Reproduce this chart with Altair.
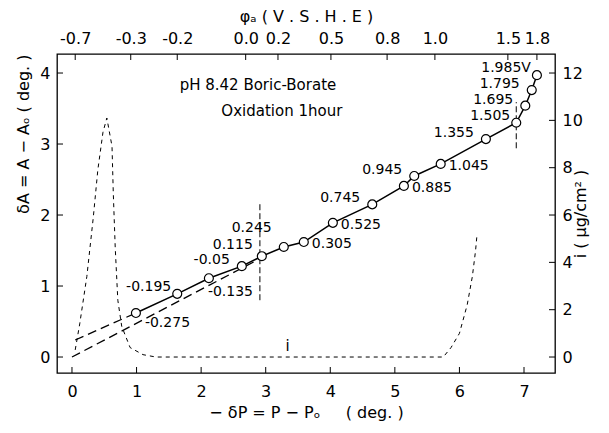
import altair as alt
import pandas as pd

# ---------------- data ----------------
# measured points (-dP, dA) and their potential labels (V vs SHE)
dP = [0.99, 1.63, 2.12, 2.63, 2.94, 3.28, 3.59, 4.04, 4.65, 5.14, 5.30, 5.71, 6.41, 6.88, 7.02, 7.12, 7.20]
dA = [0.62, 0.89, 1.11, 1.28, 1.42, 1.55, 1.62, 1.89, 2.15, 2.41, 2.55, 2.72, 3.07, 3.30, 3.54, 3.76, 3.97]
phi = ["-0.275", "-0.195", "-0.135", "-0.05", "0.115", "0.245", "0.305", "0.525", "0.745",
       "0.885", "0.945", "1.045", "1.355", "1.505", "1.695", "1.795", "1.985V"]
# label placement class of each point (see lab_cfg below)
side = ["BR", "A2", "B", "A", "C", "D", "R", "R", "A", "R", "A", "R", "A", "A2", "A", "A", "A2"]

# dashed straight lines near the origin
ext_grp = ["upper", "upper", "lower", "lower"]
ext_x = [0.05, 0.99, 0.00, 2.90]
ext_y = [0.24, 0.62, 0.00, 1.38]

# short vertical dashed markers
vm_x = [2.91, 6.88]
vm_y1 = [0.80, 2.94]
vm_y2 = [2.18, 3.59]

# current density curve i (ug/cm^2), right axis
i_x = [0.05, 0.12, 0.23, 0.33, 0.40, 0.48, 0.54, 0.62, 0.64, 0.67, 0.71, 0.77, 0.90, 1.10, 1.30,
       5.75, 5.87, 6.00, 6.12, 6.20, 6.25, 6.27]
i_y = [0.3, 1.4, 3.4, 5.9, 7.9, 9.5, 10.1, 8.9, 6.9, 4.6, 2.4, 1.3, 0.4, 0.1, 0.0,
       0.0, 0.4, 1.0, 2.2, 3.4, 4.5, 5.1]

# axis ticks
bottom_ticks = [0, 1, 2, 3, 4, 5, 6, 7]
left_ticks = [0, 1, 2, 3, 4]
right_ticks = [0, 2, 4, 6, 8, 10, 12]
top_pos = [0.05, 0.91, 1.63, 2.69, 3.19, 4.01, 4.88, 5.62, 6.75, 7.20]
top_lab = ["-0.7", "-0.3", "-0.2", "0.0", "0.2", "0.5", "0.8", "1.0", "1.5", "1.8"]

# annotations
ann_text = ["pH 8.42  Boric-Borate", "Oxidation 1hour", "i"]
ann_x = [2.88, 3.25, 3.34]
ann_y = [3.83, 3.46, 0.15]

# ---------------- chart ----------------
XD = [-0.232, 7.48]
YD = [-0.225, 4.268]
Y2D = [v * 3 for v in YD]
W, H = 498, 319
FONT = "DejaVu Sans"
TICK = 6
NB = "\u00a0"


def ax_common(**kw):
    base = dict(domain=False, ticks=False, grid=False, labelFont=FONT, labelFontSize=16,
                labelColor="black", titleFont=FONT, titleFontSize=16, titleFontWeight="normal",
                titleColor="black")
    base.update(kw)
    return alt.Axis(**base)


bottom_axis = ax_common(orient="bottom", values=bottom_ticks, format="d", labelPadding=10,
                        title="− δP = P − Pₒ" + NB * 5 + "( deg. )", titlePadding=5)
left_axis = ax_common(orient="left", values=left_ticks, format="d", labelPadding=7,
                      title="δA = A − Aₒ ( deg. )", titleAnchor="end", titlePadding=8)
right_axis = ax_common(orient="right", values=right_ticks, format="d", labelPadding=7,
                       title="i ( μg/cm² )", titleAngle=270, titlePadding=6)
label_expr = "[" + ",".join("'%s'" % s for s in top_lab) + "][indexof([" + \
    ",".join(repr(v) for v in top_pos) + "], datum.value)]"
top_axis = ax_common(orient="top", values=top_pos, labelExpr=label_expr, labelPadding=8,
                     labelOverlap=False, title="φₐ ( V . S . H . E )", titlePadding=6)

xs = alt.Scale(domain=XD, nice=False, zero=False)
ys = alt.Scale(domain=YD, nice=False, zero=False)
y2s = alt.Scale(domain=Y2D, nice=False, zero=False)


def xb(f):
    return alt.X(f + ":Q", scale=xs, axis=bottom_axis)


def yl(f):
    return alt.Y(f + ":Q", scale=ys, axis=left_axis)


pts = pd.DataFrame({"dP": dP, "dA": dA, "phi": phi, "side": side})
ext = pd.DataFrame({"g": ext_grp, "x": ext_x, "y": ext_y})
vm = pd.DataFrame({"x": vm_x, "y1": vm_y1, "y2": vm_y2})
idf = pd.DataFrame({"x": i_x, "i": i_y})
ann = pd.DataFrame({"t": ann_text, "x": ann_x, "y": ann_y})

ext_lines = alt.Chart(ext).mark_line(color="black", strokeWidth=1.3, strokeDash=[9, 5]).encode(
    x=xb("x"), y=yl("y"), detail="g:N")
vmarks = alt.Chart(vm).mark_rule(color="black", strokeWidth=1, strokeDash=[6, 3]).encode(
    x=xb("x"), y=yl("y1"), y2="y2:Q")
solid = alt.Chart(pts).mark_line(color="black", strokeWidth=1.5).encode(x=xb("dP"), y=yl("dA"))
circles = alt.Chart(pts).mark_point(shape="circle", filled=True, fill="white", stroke="black",
                                    strokeWidth=1.2, size=80, opacity=1).encode(x=xb("dP"), y=yl("dA"))

lab_cfg = {"A": dict(align="right", dx=-12, dy=-6),
           "A2": dict(align="right", dx=-6, dy=-7),
           "C": dict(align="right", dx=-9, dy=-11),
           "D": dict(align="right", dx=-12, dy=-19),
           "R": dict(align="left", dx=8, dy=2),
           "BR": dict(align="left", dx=9, dy=10),
           "B": dict(align="left", dx=-1, dy=14)}
label_layers = []
for g, cfg in lab_cfg.items():
    label_layers.append(
        alt.Chart(pts).transform_filter(alt.datum.side == g).mark_text(
            baseline="middle", font=FONT, fontSize=14, color="black", **cfg
        ).encode(x=xb("dP"), y=yl("dA"), text="phi:N"))

annots = alt.Chart(ann).mark_text(font=FONT, fontSize=15, color="black", baseline="middle",
                                  align="center").encode(x=xb("x"), y=yl("y"), text="t:N")

bt = alt.Chart(pd.DataFrame({"t": bottom_ticks})).mark_rule(color="black", strokeWidth=1).encode(
    x=xb("t"), y=alt.value(H), y2=alt.value(H - TICK))
lt = alt.Chart(pd.DataFrame({"t": left_ticks})).mark_rule(color="black", strokeWidth=1).encode(
    y=yl("t"), x=alt.value(0), x2=alt.value(TICK))

main = alt.layer(ext_lines, vmarks, solid, circles, *label_layers, annots, bt, lt)

# right-axis layer (current density)
xi = alt.X("x:Q", scale=xs, axis=None)
i_curve = alt.Chart(idf).mark_line(color="black", strokeWidth=1, strokeDash=[4, 4]).encode(
    x=xi, y=alt.Y("i:Q", scale=y2s, axis=right_axis))
rt = alt.Chart(pd.DataFrame({"t": right_ticks})).mark_rule(color="black", strokeWidth=1).encode(
    y=alt.Y("t:Q", scale=y2s, axis=right_axis), x=alt.value(W), x2=alt.value(W - TICK))
right = alt.layer(i_curve, rt)

# top axis layer (potential scale)
tt = alt.Chart(pd.DataFrame({"t": top_pos})).mark_rule(color="black", strokeWidth=1).encode(
    x=alt.X("t:Q", scale=xs, axis=top_axis), y=alt.value(0), y2=alt.value(TICK))

chart = alt.layer(main, right, tt).resolve_scale(x="independent", y="independent").properties(
    width=W, height=H, autosize="none",
    padding={"left": 49, "top": 46, "right": 46, "bottom": 52},
    background="white",
).configure_view(stroke="black", strokeWidth=1.3)

chart.save("out.html", embed_options={"renderer": "svg", "actions": False})
